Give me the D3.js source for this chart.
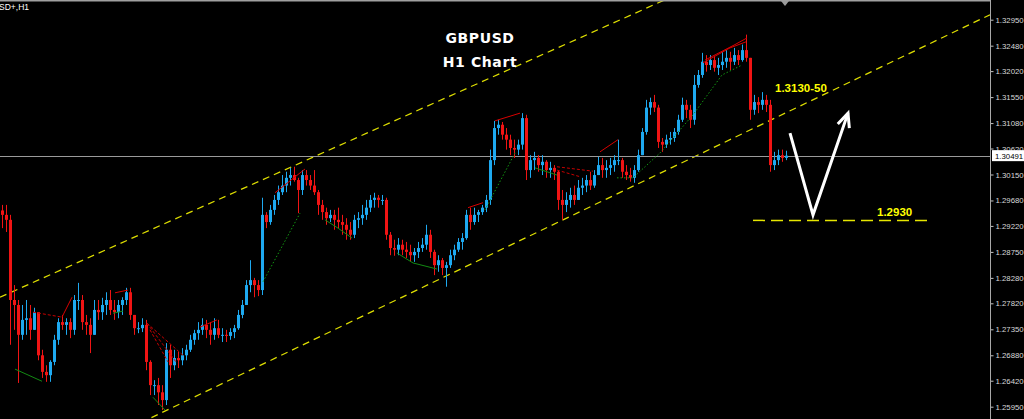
<!DOCTYPE html>
<html><head><meta charset="utf-8">
<script src="https://cdn.jsdelivr.net/npm/d3@7/dist/d3.min.js"></script>
<style>html,body{margin:0;padding:0;background:#000;overflow:hidden}</style>
</head><body><svg id="c" width="1024" height="419"></svg>
<script>
// ---- data ----
const symbolLabel = "SD+,H1";
const titleLines = ["GBPUSD", "H1 Chart"];
const firstOpen = 1.2950;
const highs = [
1.2960,1.2960,1.2942,1.2815,1.2788,1.2779,1.2788,1.2779,1.2774,1.2766,
1.2698,1.2670,1.2679,1.2725,1.2755,1.2761,1.2755,1.2755,1.2797,1.2819,
1.2797,1.2761,1.2755,1.2788,1.2788,1.2792,1.2802,1.2806,1.2788,1.2788,
1.2793,1.2810,1.2810,1.2761,1.2748,1.2755,1.2752,1.2679,1.2643,1.2647,
1.2634,1.2710,1.2707,1.2698,1.2694,1.2701,1.2707,1.2725,1.2734,1.2748,
1.2755,1.2752,1.2748,1.2755,1.2752,1.2737,1.2734,1.2737,1.2743,1.2770,
1.2788,1.2824,1.2860,1.2828,1.2824,1.2973,1.2947,1.2960,1.2978,1.2995,
1.3014,1.3020,1.3027,1.3029,1.3009,1.3023,1.3023,1.3014,1.3023,1.2987,
1.2969,1.2955,1.2951,1.2951,1.2955,1.2942,1.2936,1.2929,1.2942,1.2947,
1.2960,1.2969,1.2978,1.2982,1.2978,1.2978,1.2973,1.2911,1.2897,1.2900,
1.2897,1.2893,1.2888,1.2882,1.2893,1.2900,1.2924,1.2915,1.2879,1.2869,
1.2864,1.2857,1.2879,1.2888,1.2900,1.2909,1.2951,1.2955,1.2955,1.2951,
1.2960,1.2978,1.3060,1.3112,1.3114,1.3110,1.3099,1.3087,1.3078,1.3078,
1.3126,1.3123,1.3050,1.3056,1.3050,1.3050,1.3041,1.3038,1.3032,1.3023,
1.2987,1.2983,1.2991,1.2995,1.3005,1.3009,1.3014,1.3020,1.3023,1.3047,
1.3045,1.3041,1.3045,1.3050,1.3078,1.3045,1.3032,1.3027,1.3032,1.3060,
1.3099,1.3150,1.3154,1.3159,1.3141,1.3081,1.3087,1.3092,1.3099,1.3123,
1.3154,1.3150,1.3141,1.3195,1.3204,1.3235,1.3231,1.3231,1.3230,1.3226,
1.3237,1.3240,1.3237,1.3244,1.3240,1.3250,1.3268,1.3226,1.3159,1.3155,
1.3164,1.3159,1.3150,1.3056,1.3060,1.3060,1.3058];
const lows = [
1.2918,1.2911,1.2707,1.2734,1.2638,1.2716,1.2725,1.2716,1.2743,1.2679,
1.2647,1.2640,1.2640,1.2670,1.2707,1.2734,1.2725,1.2719,1.2725,1.2770,
1.2734,1.2725,1.2692,1.2725,1.2752,1.2752,1.2761,1.2761,1.2752,1.2755,
1.2761,1.2779,1.2752,1.2725,1.2728,1.2730,1.2661,1.2616,1.2616,1.2598,
1.2589,1.2598,1.2647,1.2661,1.2665,1.2670,1.2679,1.2694,1.2707,1.2716,
1.2725,1.2719,1.2707,1.2716,1.2719,1.2712,1.2712,1.2716,1.2719,1.2734,
1.2755,1.2779,1.2802,1.2793,1.2795,1.2797,1.2918,1.2924,1.2942,1.2960,
1.2978,1.2983,1.2995,1.3002,1.2945,1.2978,1.2995,1.2987,1.2978,1.2942,
1.2933,1.2924,1.2929,1.2915,1.2918,1.2906,1.2897,1.2897,1.2900,1.2918,
1.2924,1.2933,1.2947,1.2955,1.2955,1.2960,1.2897,1.2869,1.2868,1.2869,
1.2869,1.2864,1.2857,1.2857,1.2864,1.2875,1.2879,1.2864,1.2833,1.2839,
1.2833,1.2812,1.2846,1.2860,1.2875,1.2879,1.2897,1.2915,1.2924,1.2929,
1.2942,1.2947,1.2960,1.3032,1.3087,1.3078,1.3060,1.3050,1.3045,1.3050,
1.3060,1.3005,1.3009,1.3023,1.3020,1.3014,1.3009,1.3009,1.3005,1.2951,
1.2933,1.2947,1.2955,1.2960,1.2969,1.2978,1.2983,1.2987,1.2991,1.3014,
1.3009,1.3009,1.3014,1.3020,1.3032,1.3009,1.3005,1.3002,1.3000,1.3020,
1.3050,1.3087,1.3123,1.3128,1.3063,1.3056,1.3063,1.3069,1.3074,1.3087,
1.3110,1.3117,1.3099,1.3105,1.3172,1.3190,1.3201,1.3204,1.3201,1.3195,
1.3204,1.3208,1.3204,1.3213,1.3213,1.3219,1.3219,1.3114,1.3123,1.3126,
1.3132,1.3128,1.3020,1.3023,1.3032,1.3038,1.3041];
const closes = [
1.2942,1.2933,1.2788,1.2779,1.2725,1.2752,1.2755,1.2734,1.2766,1.2688,
1.2658,1.2652,1.2676,1.2716,1.2748,1.2743,1.2748,1.2734,1.2788,1.2788,
1.2748,1.2743,1.2725,1.2770,1.2766,1.2779,1.2788,1.2770,1.2766,1.2779,
1.2788,1.2802,1.2761,1.2737,1.2737,1.2743,1.2676,1.2634,1.2634,1.2621,
1.2607,1.2698,1.2670,1.2683,1.2679,1.2688,1.2698,1.2716,1.2728,1.2734,
1.2743,1.2734,1.2725,1.2737,1.2725,1.2725,1.2723,1.2730,1.2737,1.2761,
1.2779,1.2815,1.2824,1.2815,1.2806,1.2942,1.2929,1.2951,1.2969,1.2983,
1.2995,1.3009,1.3014,1.3005,1.2987,1.3014,1.3005,1.2995,1.2983,1.2960,
1.2947,1.2936,1.2942,1.2933,1.2929,1.2924,1.2915,1.2906,1.2933,1.2936,
1.2942,1.2955,1.2969,1.2973,1.2969,1.2969,1.2906,1.2882,1.2879,1.2888,
1.2879,1.2875,1.2869,1.2875,1.2882,1.2888,1.2906,1.2875,1.2851,1.2860,
1.2846,1.2851,1.2869,1.2879,1.2893,1.2900,1.2942,1.2929,1.2942,1.2947,
1.2955,1.2969,1.3041,1.3099,1.3105,1.3087,1.3078,1.3063,1.3060,1.3069,
1.3117,1.3023,1.3041,1.3045,1.3032,1.3038,1.3023,1.3027,1.3020,1.2969,
1.2960,1.2969,1.2978,1.2969,1.2991,1.2995,1.3005,1.2995,1.3014,1.3032,
1.3023,1.3027,1.3032,1.3041,1.3041,1.3020,1.3014,1.3009,1.3023,1.3050,
1.3092,1.3136,1.3146,1.3136,1.3074,1.3069,1.3078,1.3081,1.3092,1.3114,
1.3141,1.3132,1.3114,1.3177,1.3195,1.3219,1.3213,1.3222,1.3208,1.3213,
1.3219,1.3226,1.3219,1.3231,1.3222,1.3240,1.3226,1.3132,1.3146,1.3141,
1.3150,1.3141,1.3032,1.3041,1.3050,1.3045,1.30491];
const lastPrice = 1.30491;
const tickValues = [1.32950,1.32480,1.32020,1.31550,1.31080,1.30620,1.30150,1.29680,
  1.29220,1.28750,1.28280,1.27820,1.27350,1.26880,1.26420,1.25950];

// annotation lines as [bar index, price]
const upperChannel = [[-0.5, 1.2793], [165.75, 1.3331]];
const lowerChannel = [[37, 1.2574], [247, 1.3304]];
const supportLevel = [[187.75, 1.2932], [232.5, 1.2932]];
const vPath = [[197, 1.3090], [202.75, 1.2942], [211.5, 1.3126]];
const resistanceText = {label: "1.3130-50", at: [193.25, 1.3164]};
const supportText = {label: "1.2930", at: [218.75, 1.2940]};

const greenSolid = [
  [[3.25,1.2663],[10,1.2641]],
  [[37.75,1.2612],[40.75,1.2589]],
  [[80.75,1.2933],[84,1.2918],[87.5,1.2900]],
  [[98.75,1.2873],[102.75,1.2855],[108.75,1.2844]],
  [[133.25,1.3027],[138.75,1.3014]],
  [[27.75,1.2764],[30.25,1.2768]]
];
const greenDotted = [
  [[65.25,1.2821],[74.5,1.2945]],
  [[120.75,1.2951],[128.25,1.3054]],
  [[153.75,1.3009],[157.75,1.3009],[164.5,1.3054],[172.75,1.3123],[180,1.3195],[185,1.3213]]
];
const redSolid = [
  [[15,1.2757],[17.5,1.2793]],
  [[28.25,1.2801],[31.5,1.2806]],
  [[49.5,1.2739],[53.75,1.2752]],
  [[68.25,1.2982],[75.75,1.3025]],
  [[116.5,1.2955],[120.25,1.2964]],
  [[123.25,1.3112],[129.5,1.3126]],
  [[149.5,1.3056],[154,1.3078]],
  [[175.25,1.3217],[182,1.3244],[186,1.3255]],
  [[175.75,1.3222],[183.25,1.3250],[186.25,1.3262]]
];
const redDashed = [
  [[7.75,1.2766],[15,1.2757]],
  [[36.25,1.2746],[45.25,1.2688]],
  [[36.25,1.2746],[43.5,1.2676]],
  [[37,1.2734],[41.5,1.2676]],
  [[138.75,1.3029],[147.75,1.3021]],
  [[138.75,1.3023],[144.5,1.3011]]
];

// ---- drawing ----
const W = 1024, H = 419, axisX = 990;
const svg = d3.select("#c");
svg.append("rect").attr("width", W).attr("height", H).attr("fill", "#000");

const N = closes.length;
const x = d3.scaleLinear().domain([0, N - 1]).range([2, 786]);
const y = d3.scaleLinear().domain([1.2595, 1.3295]).range([406.7, 19.7]);

const plot = svg.append("g");
const clip = svg.append("clipPath").attr("id", "pc");
clip.append("rect").attr("x", 0).attr("y", 0).attr("width", axisX).attr("height", H);
plot.attr("clip-path", "url(#pc)");

const line = d3.line().x(d => x(d[0])).y(d => y(d[1]));

// channel lines
[upperChannel, lowerChannel].forEach(seg => {
  const [a, b] = seg;
  const slope = (b[1] - a[1]) / (b[0] - a[0]);
  const i0 = x.invert(0), i1 = x.invert(axisX);
  const pts = [[i0, a[1] + slope * (i0 - a[0])], [i1, a[1] + slope * (i1 - a[0])]];
  plot.append("path").attr("d", line(pts)).attr("fill", "none")
    .attr("stroke", "#dede00").attr("stroke-width", 1.25).attr("stroke-dasharray", "7,5");
});

// bid line
plot.append("line").attr("x1", 0).attr("x2", axisX)
  .attr("y1", Math.round(y(lastPrice)) + 0.5).attr("y2", Math.round(y(lastPrice)) + 0.5)
  .attr("stroke", "#9a9a9a").attr("stroke-width", 1);

// candles
const UP = "#1ea9f0", DOWN = "#f01414";
const bars = closes.map((c, i) => {
  const o = i === 0 ? firstOpen : closes[i - 1];
  return {i, o, c, h: Math.max(highs[i], o, c), l: Math.min(lows[i], o, c)};
});
const cg = plot.append("g");
cg.selectAll("line.w").data(bars).join("line")
  .attr("x1", d => Math.round(x(d.i)) + 0.5).attr("x2", d => Math.round(x(d.i)) + 0.5)
  .attr("y1", d => y(d.h)).attr("y2", d => y(d.l))
  .attr("stroke", d => d.c >= d.o ? UP : DOWN).attr("stroke-width", 1);
cg.selectAll("rect.b").data(bars).join("rect")
  .attr("x", d => Math.round(x(d.i)) - 1).attr("width", 3)
  .attr("y", d => y(Math.max(d.o, d.c)))
  .attr("height", d => Math.max(1, y(Math.min(d.o, d.c)) - y(Math.max(d.o, d.c))))
  .attr("fill", d => d.c >= d.o ? UP : DOWN);

// indicator lines
const drawSet = (set, color, dash, w) => set.forEach(p => plot.append("path").attr("d", line(p))
  .attr("fill", "none").attr("stroke", color).attr("stroke-width", w)
  .attr("stroke-dasharray", dash));
drawSet(greenDotted, "#139a13", "1.5,2", 1);
drawSet(greenSolid, "#138a13", null, 1);
drawSet(redDashed, "#c80000", "3,2", 1);
drawSet(redSolid, "#d80000", null, 1);

// support level
plot.append("path").attr("d", line(supportLevel)).attr("fill", "none")
  .attr("stroke", "#e6e600").attr("stroke-width", 1.5).attr("stroke-dasharray", "12,6");

// V arrow
plot.append("path").attr("d", line(vPath)).attr("fill", "none")
  .attr("stroke", "#fff").attr("stroke-width", 3).attr("stroke-linejoin", "miter");
{
  const p1 = vPath[vPath.length - 2], p2 = vPath[vPath.length - 1];
  const tx = x(p2[0]), ty = y(p2[1]);
  const ang = Math.atan2(ty - y(p1[1]), tx - x(p1[0]));
  const L = 15, spread = 0.42;
  const b1 = [tx - L * Math.cos(ang - spread), ty - L * Math.sin(ang - spread)];
  const b2 = [tx - L * Math.cos(ang + spread), ty - L * Math.sin(ang + spread)];
  plot.append("path").attr("d", `M${b1[0]},${b1[1]}L${tx},${ty}L${b2[0]},${b2[1]}`)
    .attr("fill", "none").attr("stroke", "#fff").attr("stroke-width", 3)
    .attr("stroke-linejoin", "miter");
}

// level labels
[resistanceText, supportText].forEach(t => plot.append("text")
  .attr("x", x(t.at[0])).attr("y", y(t.at[1]))
  .attr("fill", "#ffff00").attr("font-family", "'Liberation Sans', Arial, sans-serif")
  .attr("font-weight", "bold").attr("font-size", "11.5px").text(t.label));

// title
titleLines.forEach((t, k) => svg.append("text").attr("x", 480).attr("y", 43 + k * 24)
  .attr("text-anchor", "middle").attr("fill", "#fff")
  .attr("font-family", "'DejaVu Sans', sans-serif").attr("font-weight", "bold")
  .attr("font-size", "14px").attr("letter-spacing", "0.6px").text(t));

// top border + symbol label + shift marker
svg.append("line").attr("x1", 0).attr("x2", axisX).attr("y1", 0.5).attr("y2", 0.5)
  .attr("stroke", "#a0a0a0").attr("stroke-width", 2);
svg.append("text").attr("x", -1).attr("y", 10).attr("fill", "#fff")
  .attr("font-family", "'Liberation Sans', Arial, sans-serif").attr("font-size", "8.5px")
  .text(symbolLabel);
svg.append("path").attr("d", "M781,1L789,1L785,6Z").attr("fill", "#9a9a9a");

// price axis
const axis = d3.axisRight(y).tickValues(tickValues).tickSize(3).tickPadding(2)
  .tickFormat(d3.format(".5f"));
const ag = svg.append("g").attr("transform", `translate(${axisX + 0.5},0)`).call(axis);
ag.select(".domain").remove();
ag.selectAll(".tick line").attr("stroke", "#c0c0c0");
ag.selectAll(".tick text").attr("fill", "#d8d8d8")
  .attr("font-family", "'Liberation Sans', Arial, sans-serif").attr("font-size", "7.8px");
svg.append("line").attr("x1", axisX + 0.5).attr("x2", axisX + 0.5).attr("y1", 0).attr("y2", H)
  .attr("stroke", "#a8a8a8").attr("stroke-width", 1);

// last price box
const ly = y(lastPrice);
svg.append("rect").attr("x", axisX + 2).attr("y", ly - 5.5).attr("width", 32).attr("height", 11)
  .attr("fill", "#fff");
svg.append("text").attr("x", axisX + 5).attr("y", ly + 3).attr("fill", "#000")
  .attr("font-family", "'Liberation Sans', Arial, sans-serif").attr("font-size", "7.8px")
  .text(d3.format(".5f")(lastPrice));
</script></body></html>
